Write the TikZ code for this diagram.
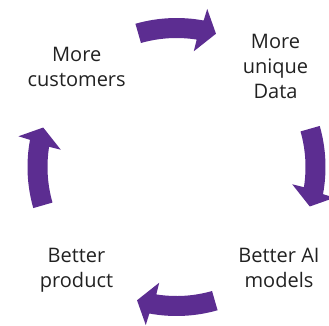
\documentclass[tikz,border=0pt]{standalone}
\usepackage{fontspec}
\setmainfont{Open Sans}
\definecolor{cyclepurple}{HTML}{5C2D91}
\begin{document}
\begin{tikzpicture}[x=1pt,y=1pt,
  cycle label/.style={font=\fontsize{20}{25}\selectfont, text=black!87,
    align=center, inner sep=0pt},
  cycle arrow/.style={fill=cyclepurple}]
\useasboundingbox (0,0) rectangle (329,-325);
\coordinate (hub) at (176.5,-167);

% four thick curved arrows running clockwise round the hub
\foreach \t in {90,0,-90,180}{
  \fill[cycle arrow]
    ([shift={(\t+16:149)}]hub) arc[start angle=\t+16, end angle=\t-10.5, radius=149]
    -- ([shift={(\t-11:161)}]hub)
    -- ([shift={(\t-16.5:139)}]hub)
    -- ([shift={(\t-8.5:117)}]hub)
    -- ([shift={(\t-9:129)}]hub) arc[start angle=\t-9, end angle=\t+16, radius=129]
    -- cycle;
}

\node[cycle label] (customers) at (76.7,-66.8) {More\\customers};
\node[cycle label] (data) at (275.5,-66.5) {More\\unique\\Data};
\node[cycle label] (product) at (76.5,-270) {Better\\product};
\node[cycle label] (models) at (279,-268) {Better AI\\models};
\end{tikzpicture}
\end{document}
